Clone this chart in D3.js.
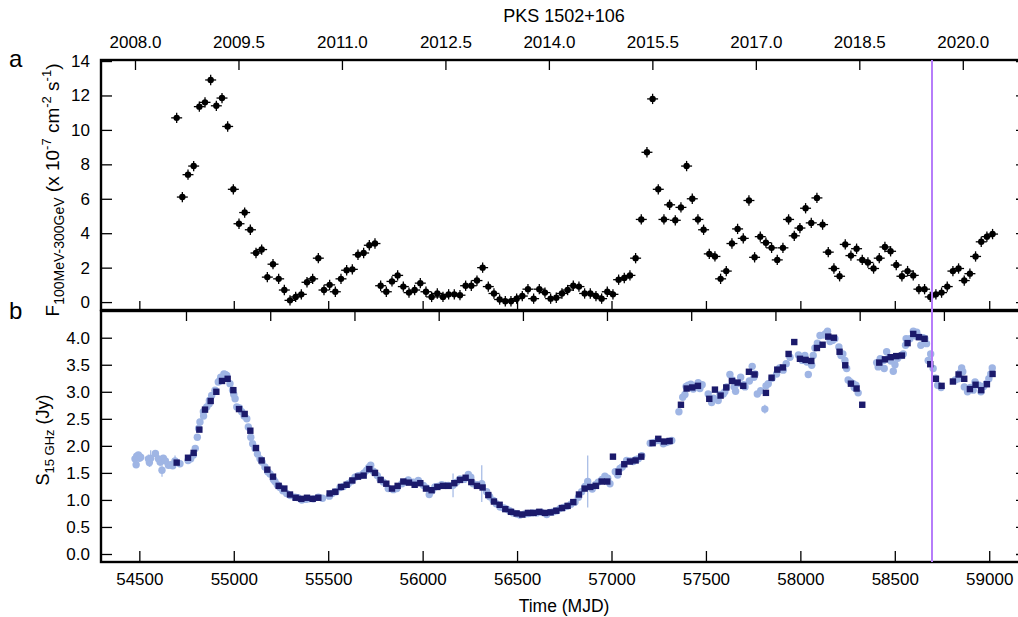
<!DOCTYPE html>
<html>
<head>
<meta charset="utf-8">
<script src="https://cdn.jsdelivr.net/npm/d3@7"></script>
<style>
  body { margin: 0; background: #fff; }
  text { font-family: "Liberation Sans", Arial, Helvetica, sans-serif; }
</style>
</head>
<body>
<div id="chart"></div>
<script>
// ---- data ----
// Fermi-LAT monthly bins (30 d), first bin centre
var binCentre0 = 54697.7, binWidth = 30
var fermiFlux = [
  10.7, 6.1, 7.4, 7.9, 11.35, 11.6, 12.9, 11.4, 11.85, 10.2,
  6.55, 4.55, 5.2, 4.2, 2.85, 3.05, 1.45, 2.2, 1.35, 0.7,
  0.1, 0.3, 0.45, 1.15, 1.35, 2.55, 0.7, 1.0, 0.6, 1.35,
  1.85, 1.9, 2.75, 2.85, 3.3, 3.4, 0.95, 0.6, 1.2, 1.55,
  0.9, 0.55, 0.7, 1.1, 0.6, 0.3, 0.5, 0.3, 0.45, 0.45,
  0.4, 0.95, 0.95, 1.25, 2.0, 0.9, 0.5, 0.15, 0.05, 0.05,
  0.2, 0.35, 0.75, 0.2, 0.75, 0.55, 0.2, 0.25, 0.5, 0.7,
  0.95, 0.9, 0.5, 0.5, 0.35, 0.2, 0.6, 0.45, 1.3, 1.4,
  1.55, 2.55, 4.8, 8.7, 11.8, 6.55, 4.8, 5.65, 4.75, 5.5,
  7.9, 6.0, 4.8, 4.2, 2.8, 2.65, 1.35, 1.8, 3.4, 4.25,
  3.7, 5.9, 2.6, 3.8, 3.45, 3.15, 2.45, 3.15, 4.8, 3.85,
  4.3, 5.45, 4.6, 6.05, 4.5, 2.9, 1.95, 1.5, 3.35, 2.7,
  3.1, 2.45, 2.3, 1.95, 2.55, 3.2, 2.95, 2.15, 1.5, 1.8,
  1.55, 0.75, 0.75, 0.3, 0.45, 0.55, 0.9, 1.8, 1.95, 1.25,
  1.65, 2.65, 3.5, 3.8, 3.95
]
var fermiErr = 0.3

// 15 GHz flux in the same monthly bins (null = no data)
var radioBinned = [
  1.69, null, 1.78, 1.87, 2.30, 2.67, 2.83, 3.00, 3.20, 3.24,
  3.03, 2.68, 2.59, 2.28, 1.96, 1.73, 1.56, 1.43, 1.26, 1.21,
  1.10, 1.04, 1.02, 1.04, 1.02, 1.04, null, 1.12, 1.15, 1.24,
  1.28, 1.36, 1.43, 1.45, 1.57, 1.50, 1.37, 1.30, 1.21, 1.26,
  1.34, 1.32, 1.28, 1.31, 1.21, 1.18, 1.24, 1.26, 1.26, 1.31,
  1.37, 1.41, 1.33, 1.26, 1.23, 1.09, 0.97, 0.91, 0.83, 0.78,
  0.75, 0.73, 0.76, 0.76, 0.78, 0.76, 0.77, 0.80, 0.85, 0.89,
  0.96, 1.10, 1.21, 1.24, 1.26, 1.34, 1.34, 1.80, 1.52, 1.66,
  1.71, 1.73, 1.80, null, 2.05, 2.13, 2.08, 2.09, null, 2.76,
  3.06, 3.08, 3.11, null, 2.87, 3.04, 2.93, 3.08, 3.20, 3.17,
  3.11, 3.37, 3.32, null, 2.98, 3.26, 3.41, 3.45, 3.70, 3.92,
  3.61, 3.59, 3.57, 3.81, 3.87, 4.02, 4.00, 3.74, 3.49, 3.15,
  3.06, 2.76, null, null, 3.54, 3.60, 3.64, 3.66, 3.67, 3.90,
  4.07, 4.01, 3.98, 3.51, 3.24, 3.11, null, 3.19, 3.32, 3.24,
  3.05, 3.13, 3.03, 3.14, 3.33
]

// OVRO 15 GHz single observations (with error bars)
var ovroMJD = [
  54477, 54483, 54486, 54495, 54500, 54507, 54548, 54553, 54560, 54585,
  54601, 54610, 54620, 54627, 54638, 54654, 54666, 54677, 54689, 54715,
  54758, 54772, 54786, 54796, 54807, 54814, 54821, 54839, 54857, 54871,
  54883, 54901, 54918, 54931, 54948, 54963, 54980, 54994, 55007, 55016,
  55042, 55069, 55077, 55090, 55100, 55113, 55139, 55165, 55192, 55218,
  55245, 55280, 55324, 55360, 55395, 55421, 55448, 55506, 55563, 55606,
  55642, 55677, 55704, 55725, 55739, 55792, 55818, 55845, 55863, 55924,
  55951, 55977, 56004, 56035, 56065, 56101, 56136, 56161, 56198, 56242,
  56268, 56313, 56339, 56374, 56410, 56445, 56480, 56515, 56559, 56604,
  56657, 56692, 56727, 56763, 56807, 56842, 56874, 56898, 56930, 56965,
  56992, 57033, 57057, 57080, 57115, 57142, 57160, 57221, 57274, 57319,
  57357, 57377, 57389, 57406, 57433, 57459, 57468, 57512, 57530, 57565,
  57592, 57610, 57627, 57650, 57657, 57684, 57707, 57745, 57754, 57772,
  57812, 57818, 57874, 57909, 57945, 58024, 58042, 58060, 58068, 58077,
  58104, 58144, 58157, 58183, 58204, 58215, 58236, 58245, 58253, 58280,
  58294, 58306, 58404, 58412, 58423, 58444, 58457, 58492, 58501, 58536,
  58557, 58560, 58598, 58616, 58638, 58659, 58668, 58677, 58703, 58727,
  58836, 58854, 58868, 58885, 58915, 58956, 58998, 59016
]
var ovroFlux = [
  1.76, 1.65, 1.81, 1.83, 1.77, 1.79, 1.76, 1.69, 1.77, 1.86,
  1.76, 1.70, 1.55, 1.77, 1.72, 1.64, 1.65, 1.63, 1.72, 1.67,
  1.73, 1.76, 1.83, 1.95, 2.16, 2.32, 2.44, 2.63, 2.72, 2.84,
  2.93, 3.03, 3.18, 3.27, 3.33, 3.30, 3.15, 3.03, 2.87, 2.72,
  2.63, 2.50, 2.35, 2.16, 2.04, 1.95, 1.76, 1.61, 1.48, 1.34,
  1.23, 1.12, 1.05, 1.00, 1.02, 1.02, 1.05, 1.07, 1.23, 1.30,
  1.42, 1.46, 1.55, 1.64, 1.53, 1.33, 1.21, 1.19, 1.21, 1.37,
  1.33, 1.36, 1.27, 1.10, 1.24, 1.28, 1.27, 1.27, 1.39, 1.47,
  1.30, 1.30, 1.15, 0.99, 0.87, 0.83, 0.76, 0.72, 0.75, 0.76,
  0.73, 0.78, 0.84, 0.88, 0.96, 1.15, 1.34, 1.20, 1.33, 1.44,
  1.30, 1.46, 1.61, 1.73, 1.71, 1.76, 1.82, 2.06, 2.04, 2.10,
  2.63, 2.90, 2.95, 3.12, 3.05, 3.17, 3.06, 2.96, 2.80, 2.84,
  2.96, 3.09, 3.32, 3.09, 3.01, 3.27, 3.09, 3.47, 3.27, 2.96,
  2.68, 3.11, 3.33, 3.40, 3.64, 3.67, 3.32, 3.49, 3.67, 3.81,
  4.04, 4.12, 3.93, 3.98, 3.83, 3.67, 3.58, 3.43, 3.22, 3.15,
  3.12, 2.98, 3.54, 3.46, 3.61, 3.43, 3.74, 3.38, 3.50, 3.67,
  3.86, 3.98, 4.12, 4.10, 3.86, 3.98, 3.89, 3.58, 3.43, 3.12,
  3.24, 3.44, 3.09, 3.00, 3.03, 3.00, 3.24, 3.44
]
var ovroErr = [
  0.05, 0.05, 0.05, 0.05, 0.05, 0.05, 0.08, 0.08, 0.15, 0.05,
  0.08, 0.08, 0.12, 0.05, 0.05, 0.05, 0.05, 0.05, 0.1, 0.03,
  0.03, 0.03, 0.03, 0.03, 0.03, 0.03, 0.03, 0.03, 0.03, 0.03,
  0.03, 0.03, 0.03, 0.03, 0.03, 0.03, 0.03, 0.03, 0.03, 0.03,
  0.03, 0.03, 0.03, 0.03, 0.03, 0.03, 0.03, 0.03, 0.03, 0.03,
  0.03, 0.03, 0.03, 0.03, 0.03, 0.03, 0.03, 0.03, 0.03, 0.03,
  0.03, 0.03, 0.03, 0.03, 0.03, 0.03, 0.03, 0.03, 0.03, 0.03,
  0.03, 0.03, 0.03, 0.03, 0.03, 0.03, 0.03, 0.22, 0.03, 0.03,
  0.03, 0.34, 0.03, 0.03, 0.03, 0.03, 0.03, 0.03, 0.03, 0.03,
  0.03, 0.03, 0.03, 0.03, 0.03, 0.03, 0.48, 0.03, 0.03, 0.03,
  0.03, 0.03, 0.03, 0.03, 0.03, 0.03, 0.03, 0.03, 0.03, 0.03,
  0.03, 0.03, 0.03, 0.03, 0.03, 0.03, 0.03, 0.03, 0.03, 0.06,
  0.03, 0.03, 0.03, 0.03, 0.03, 0.03, 0.03, 0.03, 0.03, 0.03,
  0.08, 0.03, 0.03, 0.03, 0.03, 0.03, 0.03, 0.03, 0.03, 0.03,
  0.03, 0.03, 0.03, 0.03, 0.03, 0.03, 0.03, 0.03, 0.03, 0.03,
  0.03, 0.03, 0.03, 0.03, 0.03, 0.03, 0.03, 0.03, 0.03, 0.03,
  0.03, 0.03, 0.03, 0.03, 0.03, 0.03, 0.03, 0.03, 0.03, 0.03,
  0.03, 0.03, 0.03, 0.03, 0.03, 0.03, 0.03, 0.03
]
// further OVRO observations mostly hidden under the binned squares
var ovroMJD2 = [
  54840, 54870, 54925, 54955, 55000, 55030, 55055, 55125, 55150, 55180,
  55210, 55230, 55260, 55300, 55340, 55380, 55470, 55520, 55540, 55580,
  55625, 55660, 55690, 55715, 55760, 55775, 55890, 55905, 56020, 56050,
  56080, 56120, 56180, 56220, 56255, 56290, 56355, 56390, 56430, 56460,
  56500, 56540, 56580, 56630, 56675, 56710, 56745, 56785, 56825, 56860,
  56915, 56950, 56980, 57020, 57045, 57100, 57130, 57205, 57245, 57290,
  57305, 57395, 57420, 57445, 57480, 57540, 57575, 57600, 57640, 57670,
  57700, 57730, 57760, 57790, 57830, 57850, 57890, 57925, 57990, 58010,
  58035, 58090, 58125, 58135, 58170, 58225, 58265, 58285, 58420, 58440,
  58470, 58480, 58515, 58545, 58580, 58610, 58628, 58650, 58690, 58715,
  58745, 58820, 58845, 58860, 58900, 58925, 58945, 58970, 58985, 59008
]
var ovroFlux2 = [
  2.55, 2.78, 3.20, 3.32, 2.95, 2.70, 2.55, 1.85, 1.70, 1.52,
  1.38, 1.28, 1.17, 1.08, 1.04, 1.01, 1.03, 1.12, 1.15, 1.25,
  1.35, 1.45, 1.50, 1.60, 1.45, 1.38, 1.30, 1.33, 1.22, 1.17,
  1.25, 1.27, 1.33, 1.38, 1.42, 1.28, 1.06, 0.93, 0.85, 0.80,
  0.74, 0.74, 0.76, 0.77, 0.77, 0.80, 0.86, 0.92, 1.05, 1.25,
  1.28, 1.38, 1.40, 1.52, 1.58, 1.72, 1.75, 2.05, 2.10, 2.06,
  2.08, 3.10, 3.14, 3.10, 3.13, 2.88, 2.95, 3.00, 3.22, 3.15,
  3.13, 3.20, 3.33, 3.02, 3.15, 3.25, 3.44, 3.52, 3.68, 3.58,
  3.55, 3.90, 4.05, 4.08, 3.95, 3.70, 3.18, 3.08, 3.50, 3.58,
  3.63, 3.57, 3.62, 3.70, 3.98, 4.03, 4.02, 4.00, 3.70, 3.25,
  3.08, 3.22, 3.35, 3.37, 3.08, 3.18, 3.12, 3.10, 3.15, 3.33
]

var mjdTicks = [54500, 55000, 55500, 56000, 56500, 57000, 57500, 58000, 58500, 59000]
var yearTicks = [2008.0, 2009.5, 2011.0, 2012.5, 2014.0, 2015.5, 2017.0, 2018.5, 2020.0]
var mjdOf2008 = 54477
var innerTicksB = [54747, 55193, 55639, 56085, 56531, 56976, 57422, 57868, 58314, 58760]
var fluxTicks = [0, 2, 4, 6, 8, 10, 12, 14]
var radioTicks = [0, 0.5, 1, 1.5, 2, 2.5, 3, 3.5, 4]
var markerMJD = 58697

// ---- layout ----
var W = 1018, H = 617
var left = 101, right = 1027
var topA = 60, botA = 310, topB = 311, botB = 562

var svg = d3.select("#chart").append("svg")
    .attr("width", W).attr("height", H)

var x = d3.scaleLinear().domain([54297, 59200]).range([left, right])
var yA = d3.scaleLinear().domain([-0.46, 14.06]).range([botA, topA])
var yB = d3.scaleLinear().domain([-0.148, 4.494]).range([botB, topB])

function styleAxis(g){
    g.select(".domain").remove()
    g.selectAll(".tick line").attr("stroke", "#000").attr("stroke-width", 1.3)
    g.selectAll(".tick text").attr("font-size", "17px").attr("fill", "#000")
        .attr("font-family", "'Liberation Sans', Arial, sans-serif")
}

// ---- panel a ----
var fermiData = fermiFlux.map(function(f, i){ return {t: binCentre0 + i * binWidth, f: f} })

// top year axis
var yearScale = d3.scaleLinear()
    .domain([2008 + (54297 - mjdOf2008)/365.25, 2008 + (59200 - mjdOf2008)/365.25])
    .range([left, right])
svg.append("g").attr("transform", "translate(0," + topA + ")")
    .call(d3.axisTop(yearScale).tickValues(yearTicks).tickSize(-10).tickPadding(12)
        .tickFormat(d3.format(".1f")))
    .call(styleAxis)

svg.append("g").attr("transform", "translate(0," + botA + ")")
    .call(d3.axisBottom(x).tickValues(mjdTicks).tickSize(-9).tickFormat(""))
    .call(styleAxis)

svg.append("g").attr("transform", "translate(" + left + ",0)")
    .call(d3.axisLeft(yA).tickValues(fluxTicks).tickSize(-11).tickPadding(11))
    .call(styleAxis)

svg.append("g").attr("transform", "translate(" + right + ",0)")
    .call(d3.axisRight(yA).tickValues(fluxTicks).tickSize(-11).tickFormat(""))
    .call(styleAxis)

var gA = svg.append("g")
gA.selectAll(".vbar").data(fermiData).enter().append("line")
    .attr("x1", function(d){ return x(d.t) }).attr("x2", function(d){ return x(d.t) })
    .attr("y1", function(d){ return yA(d.f - fermiErr) }).attr("y2", function(d){ return yA(d.f + fermiErr) })
    .attr("stroke", "#000").attr("stroke-width", 1.3)
gA.selectAll(".hbar").data(fermiData).enter().append("line")
    .attr("x1", function(d){ return x(d.t - 29) }).attr("x2", function(d){ return x(d.t + 29) })
    .attr("y1", function(d){ return yA(d.f) }).attr("y2", function(d){ return yA(d.f) })
    .attr("stroke", "#000").attr("stroke-width", 1.3)
gA.selectAll("circle").data(fermiData).enter().append("circle")
    .attr("cx", function(d){ return x(d.t) })
    .attr("cy", function(d){ return yA(d.f) })
    .attr("r", 3.2).attr("fill", "#000")

// ---- panel b ----
svg.append("g").attr("transform", "translate(0," + topB + ")")
    .call(d3.axisTop(x).tickValues(innerTicksB).tickSize(-10).tickFormat(""))
    .call(styleAxis)

svg.append("g").attr("transform", "translate(0," + botB + ")")
    .call(d3.axisBottom(x).tickValues(mjdTicks).tickSize(-11).tickPadding(11).tickFormat(d3.format("d")))
    .call(styleAxis)

svg.append("g").attr("transform", "translate(" + left + ",0)")
    .call(d3.axisLeft(yB).tickValues(radioTicks).tickSize(-11).tickPadding(11).tickFormat(d3.format(".1f")))
    .call(styleAxis)

svg.append("g").attr("transform", "translate(" + right + ",0)")
    .call(d3.axisRight(yB).tickValues(radioTicks).tickSize(-11).tickFormat(""))
    .call(styleAxis)

var ovroData = ovroMJD.map(function(t, i){ return {t: t, s: ovroFlux[i], e: ovroErr[i]} })
    .concat(ovroMJD2.map(function(t, i){ return {t: t, s: ovroFlux2[i], e: 0.03} }))
var gB = svg.append("g")
gB.selectAll(".err").data(ovroData).enter().append("line")
    .attr("x1", function(d){ return x(d.t) }).attr("x2", function(d){ return x(d.t) })
    .attr("y1", function(d){ return yB(d.s - d.e) }).attr("y2", function(d){ return yB(d.s + d.e) })
    .attr("stroke", "#a9bde6").attr("stroke-width", 1.3)
gB.selectAll(".ovro").data(ovroData).enter().append("circle")
    .attr("cx", function(d){ return x(d.t) })
    .attr("cy", function(d){ return yB(d.s) })
    .attr("r", 3.7).attr("fill", "#9fb5e4")

var binData = radioBinned.map(function(s, i){ return {t: binCentre0 + i * binWidth, s: s} })
    .filter(function(d){ return d.s !== null })
var sq = 6.4
gB.selectAll(".sq").data(binData).enter().append("rect")
    .attr("x", function(d){ return x(d.t) - sq/2 })
    .attr("y", function(d){ return yB(d.s) - sq/2 })
    .attr("width", sq).attr("height", sq)
    .attr("fill", "#1b1a6b")

// ---- frames ----
svg.append("rect").attr("x", left).attr("y", topA).attr("width", right - left).attr("height", botA - topA)
    .attr("fill", "none").attr("stroke", "#000").attr("stroke-width", 2.4)
svg.append("rect").attr("x", left).attr("y", topB).attr("width", right - left).attr("height", botB - topB)
    .attr("fill", "none").attr("stroke", "#000").attr("stroke-width", 2.4)

// marker line
svg.append("line")
    .attr("x1", x(markerMJD)).attr("x2", x(markerMJD))
    .attr("y1", topA).attr("y2", botB)
    .attr("stroke", "#b67dfa").attr("stroke-width", 2)

// ---- text ----
svg.append("text").attr("x", 564).attr("y", 22).attr("text-anchor", "middle")
    .attr("font-size", "18px").text("PKS 1502+106")

svg.append("text").attr("x", 564).attr("y", 612).attr("text-anchor", "middle")
    .attr("font-size", "17.5px").text("Time (MJD)")

svg.append("text").attr("x", 9).attr("y", 67).attr("font-size", "24px").text("a")
svg.append("text").attr("x", 9).attr("y", 319).attr("font-size", "24px").text("b")

var labA = svg.append("text")
    .attr("transform", "translate(59,190) rotate(-90)")
    .attr("text-anchor", "middle").attr("font-size", "19px")
labA.append("tspan").text("F")
labA.append("tspan").attr("font-size", "14px").attr("dy", 5).text("100MeV-300GeV")
labA.append("tspan").attr("dy", -5).text(" (x 10")
labA.append("tspan").attr("font-size", "13px").attr("dy", -8).text("-7")
labA.append("tspan").attr("dy", 8).text(" cm")
labA.append("tspan").attr("font-size", "13px").attr("dy", -8).text("-2")
labA.append("tspan").attr("dy", 8).text(" s")
labA.append("tspan").attr("font-size", "13px").attr("dy", -8).text("-1")
labA.append("tspan").attr("dy", 8).text(")")

var labB = svg.append("text")
    .attr("transform", "translate(49,440) rotate(-90)")
    .attr("text-anchor", "middle").attr("font-size", "18px")
labB.append("tspan").text("S")
labB.append("tspan").attr("font-size", "13px").attr("dy", 5).text("15 GHz")
labB.append("tspan").attr("dy", -5).text(" (Jy)")
</script>
</body>
</html>
